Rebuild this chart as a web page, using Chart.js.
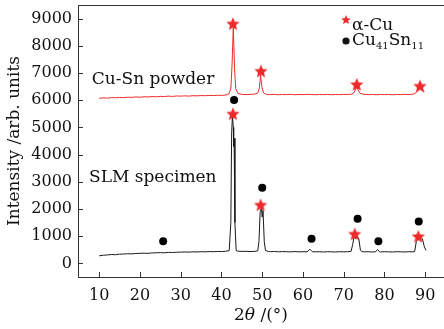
<!DOCTYPE html>
<html>
<head>
<meta charset="utf-8">
<script src="https://cdn.jsdelivr.net/npm/chart.js@4.4.1/dist/chart.umd.min.js"></script>
<style>
  html, body { margin: 0; padding: 0; background: #fff; }
  #wrap { width: 444px; height: 329px; }
</style>
</head>
<body>
<div id="wrap"><canvas id="xrd" width="444" height="329"></canvas></div>
<script>
// ---- data ----
const xTicks = [10, 20, 30, 40, 50, 60, 70, 80, 90];
const yTicks = [0, 1000, 2000, 3000, 4000, 5000, 6000, 7000, 8000, 9000];

// Cu-Sn powder (red)
const powderX = [10, 11, 12, 13, 14, 15, 16, 17, 18, 19, 20, 21, 22, 23, 24, 25, 26, 27, 28, 29, 30,
  31, 32, 33, 34, 35, 36, 37, 38, 39, 40, 41, 41.8, 42.3, 42.6, 42.9, 43.2, 43.5, 44, 45, 46, 47, 48,
  48.9, 49.3, 49.6, 49.9, 50.3, 51, 52, 53, 54, 55, 56, 57, 58, 59, 60, 61, 62, 63, 64, 65, 66, 67, 68,
  69, 70, 71, 72, 72.4, 72.9, 73.2, 73.5, 74, 75, 76, 77, 78, 79, 80, 81, 82, 83, 84, 85, 86, 87,
  87.6, 88.3, 88.8, 89.2, 89.8];
const powderY = [6070, 6085, 6075, 6095, 6090, 6100, 6095, 6110, 6105, 6120, 6110, 6125, 6120, 6135,
  6125, 6140, 6135, 6150, 6140, 6155, 6150, 6160, 6150, 6165, 6160, 6170, 6165, 6175, 6170, 6180,
  6175, 6190, 6230, 6420, 7300, 8700, 7200, 6420, 6250, 6215, 6205, 6215, 6220, 6260, 6450, 6920,
  6500, 6270, 6215, 6205, 6215, 6200, 6210, 6205, 6215, 6200, 6210, 6205, 6215, 6210, 6200, 6210,
  6205, 6215, 6200, 6210, 6205, 6215, 6210, 6225, 6260, 6380, 6520, 6380, 6250, 6215, 6205, 6210,
  6200, 6210, 6205, 6210, 6200, 6210, 6205, 6215, 6210, 6220, 6260, 6380, 6480, 6400, 6300];

// SLM specimen (black)
const slmX = [10, 11, 12, 13, 14, 15, 16, 17, 18, 19, 20, 21, 22, 23, 24, 25, 26, 27, 28, 29, 30, 31,
  32, 33, 34, 35, 36, 37, 38, 39, 40, 41, 41.9, 42.3, 42.5, 42.7, 42.9, 43.0, 43.1, 43.3, 43.6, 44,
  45, 46, 47, 48, 48.9, 49.2, 49.5, 49.8, 50.0, 50.2, 50.5, 50.8, 51.5, 52, 53, 54, 55, 56, 57, 58,
  59, 60, 61, 61.7, 62.3, 63, 64, 65, 66, 67, 68, 69, 70, 71, 71.8, 72.2, 72.6, 72.9, 73.3, 73.7,
  74.1, 74.5, 75, 76, 77, 77.8, 78.3, 78.8, 79, 80, 81, 82, 83, 84, 85, 86, 87, 87.4, 87.8, 88.1,
  88.5, 88.9, 89.3, 89.8, 90.2];
const slmY = [280, 300, 310, 325, 320, 340, 345, 355, 350, 365, 370, 375, 370, 385, 390, 395, 390,
  405, 400, 410, 415, 420, 415, 425, 420, 430, 425, 435, 430, 440, 435, 445, 470, 1500, 4800, 5450,
  5000, 4300, 4600, 1500, 480, 450, 440, 445, 435, 440, 460, 800, 1900, 2030, 1700, 1950, 800, 470,
  440, 430, 440, 425, 435, 430, 425, 435, 425, 430, 425, 520, 430, 425, 430, 420, 430, 425, 420,
  430, 425, 430, 440, 700, 1030, 900, 1000, 900, 480, 430, 425, 430, 420, 425, 510, 425, 420, 430,
  425, 420, 430, 425, 420, 430, 425, 440, 800, 1030, 900, 960, 900, 600, 480];

// phase markers
const cuX = [42.8, 49.7, 73.2, 88.7, 42.8, 49.6, 72.7, 88.3];   // alpha-Cu (stars)
const cuY = [8830, 7090, 6600, 6540, 5520, 2170, 1100, 1010];
const snX = [25.7, 43.1, 50.0, 62.1, 73.4, 78.5, 88.4];         // Cu41Sn11 (dots)
const snY = [810, 6010, 2780, 910, 1640, 810, 1540];

const FONT = "'DejaVu Serif', serif";
const RED = '#ee2a2a';

// filled five point star used as point image
function makeStar(r, color) {
  const c = document.createElement('canvas');
  const s = Math.ceil(r * 2) + 2;
  c.width = s; c.height = s;
  const g = c.getContext('2d');
  g.fillStyle = color;
  g.beginPath();
  for (let i = 0; i < 10; i++) {
    const rr = i % 2 ? r * 0.45 : r;
    const a = -Math.PI / 2 + i * Math.PI / 5;
    g.lineTo(s / 2 + rr * Math.cos(a), s / 2 + 1 + rr * Math.sin(a));
  }
  g.closePath();
  g.fill();
  return c;
}
const bigStar = makeStar(7, RED);
const smallStar = makeStar(5, RED);

function pts(xs, ys) {
  return xs.map((v, i) => ({ x: v, y: ys[i] }));
}

// ticks inside, top frame, titles, text labels and legend
const decor = {
  id: 'decor',
  afterDraw(chart) {
    const { ctx, chartArea: a, scales: { x, y } } = chart;
    ctx.save();
    ctx.strokeStyle = '#333';
    ctx.lineWidth = 1;
    ctx.beginPath();
    ctx.moveTo(a.left, a.top + 0.5);
    ctx.lineTo(a.right, a.top + 0.5);
    xTicks.forEach(v => {
      const px = Math.round(x.getPixelForValue(v)) + 0.5;
      ctx.moveTo(px, a.bottom);
      ctx.lineTo(px, a.bottom - 5);
    });
    yTicks.forEach(v => {
      const py = Math.round(y.getPixelForValue(v)) + 0.5;
      ctx.moveTo(a.left, py);
      ctx.lineTo(a.left + 5, py);
    });
    ctx.stroke();

    ctx.fillStyle = '#111';
    ctx.textBaseline = 'alphabetic';
    ctx.font = '17px ' + FONT;
    ctx.fillText('Cu-Sn powder', x.getPixelForValue(8.2), y.getPixelForValue(6610));
    ctx.fillText('SLM specimen', x.getPixelForValue(7.5), y.getPixelForValue(3010));

    // y title
    ctx.save();
    ctx.translate(19, (a.top + a.bottom) / 2);
    ctx.rotate(-Math.PI / 2);
    ctx.textAlign = 'center';
    ctx.fillText('Intensity /arb. units', 0, 0);
    ctx.restore();

    // x title with italic theta
    const parts = [['2', '17px ' + FONT], ['\u03b8', 'italic 17px ' + FONT], [' /(\u00b0)', '17px ' + FONT]];
    let w = 0;
    parts.forEach(p => { ctx.font = p[1]; w += ctx.measureText(p[0]).width; });
    let cx = (a.left + a.right) / 2 - w / 2;
    parts.forEach(p => { ctx.font = p[1]; ctx.fillText(p[0], cx, 320); cx += ctx.measureText(p[0]).width; });

    // legend
    const lx = a.right - 98;
    ctx.drawImage(smallStar, lx - smallStar.width / 2, a.top + 14 - smallStar.height / 2);
    ctx.font = '17px ' + FONT;
    ctx.fillText('\u03b1-Cu', lx + 6, a.top + 25);
    ctx.beginPath();
    ctx.arc(lx, a.top + 36, 3.6, 0, Math.PI * 2);
    ctx.fill();
    let tx = lx + 6;
    const leg = [['Cu', 0, 17], ['41', 4, 10], ['Sn', 0, 17], ['11', 4, 10]];
    leg.forEach(p => {
      ctx.font = p[2] + 'px ' + FONT;
      ctx.fillText(p[0], tx, a.top + 40 + p[1]);
      tx += ctx.measureText(p[0]).width;
    });
    ctx.restore();
  }
};

new Chart(document.getElementById('xrd'), {
  type: 'scatter',
  data: {
    datasets: [
      { label: 'alpha-Cu', data: pts(cuX, cuY), pointStyle: bigStar, pointRadius: 7, showLine: false },
      { label: 'Cu41Sn11', data: pts(snX, snY), pointStyle: 'circle', pointRadius: 4,
        backgroundColor: '#000', borderColor: '#000', borderWidth: 0, showLine: false },
      { label: 'Cu-Sn powder', data: pts(powderX, powderY), showLine: true, pointRadius: 0,
        borderColor: RED, borderWidth: 1, tension: 0 },
      { label: 'SLM specimen', data: pts(slmX, slmY), showLine: true, pointRadius: 0,
        borderColor: '#1a1a1a', borderWidth: 1, tension: 0 }
    ]
  },
  options: {
    responsive: false,
    animation: false,
    devicePixelRatio: 1,
    layout: { autoPadding: false, padding: { top: 5, right: 0, left: 0, bottom: 0 } },
    plugins: { legend: { display: false }, tooltip: { enabled: false } },
    scales: {
      x: {
        type: 'linear', min: 4.8, max: 94.6,
        grid: { display: false, drawTicks: false },
        border: { display: true, color: '#333', width: 1 },
        ticks: { font: { family: FONT, size: 16 }, color: '#111', padding: 9, callback: v => String(v) },
        afterBuildTicks: s => { s.ticks = xTicks.map(v => ({ value: v })); },
        afterFit: s => { s.height = 52; s.paddingLeft = 0; s.paddingRight = 0; }
      },
      y: {
        type: 'linear', min: -500, max: 9500,
        grid: { display: false, drawTicks: false },
        border: { display: true, color: '#333', width: 1 },
        ticks: { font: { family: FONT, size: 16 }, color: '#111', padding: 6, callback: v => String(v) },
        afterBuildTicks: s => { s.ticks = yTicks.map(v => ({ value: v })); },
        afterFit: s => { s.width = 78; s.paddingTop = 0; s.paddingBottom = 0; }
      }
    }
  },
  plugins: [decor]
});
</script>
</body>
</html>
